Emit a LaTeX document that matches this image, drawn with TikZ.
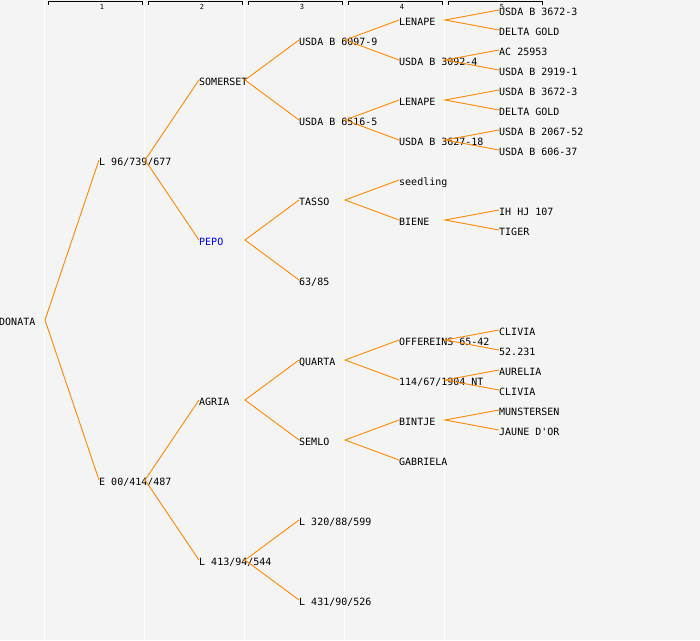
\documentclass[tikz,border=0pt]{standalone}
\usepackage{fontspec}
\usepackage{tikz}

\newfontfamily\pedfont{DejaVu Sans Mono}
\definecolor{bgcol}{HTML}{F4F4F4}
\definecolor{linkcol}{HTML}{FF8800}
\definecolor{pepocol}{HTML}{0000FF}

\tikzset{
  pnode/.style={anchor=west, inner sep=0pt, text height=11.4pt, text depth=0pt,
    font=\fontsize{10}{12}\pedfont},
  hnum/.style={inner sep=0pt, font=\fontsize{7}{7}\pedfont},
  link/.style={draw=linkcol, line width=0.9pt},
  colsep/.style={draw=white, line width=1pt},
  bracket/.style={draw=black, line width=0.8pt}
}

\begin{document}
\begin{tikzpicture}[x=1pt, y=-1pt]
   \useasboundingbox (0,0) rectangle (700,640);
   \fill[bgcol] (0,0) rectangle (700,640);

   % column separators
   \draw[colsep] (44.5,0) -- (44.5,640);
   \draw[colsep] (144.5,0) -- (144.5,640);
   \draw[colsep] (244.5,0) -- (244.5,640);
   \draw[colsep] (344.5,0) -- (344.5,640);
   \draw[colsep] (444.5,0) -- (444.5,640);

   % generation headers
   \draw[bracket] (48,4.5) -- (48,1.5) -- (142,1.5) -- (142,4.5);
   \node(h1)[hnum] at (102,6.5) {1};
   \draw[bracket] (148,4.5) -- (148,1.5) -- (242,1.5) -- (242,4.5);
   \node(h2)[hnum] at (202,6.5) {2};
   \draw[bracket] (248,4.5) -- (248,1.5) -- (342,1.5) -- (342,4.5);
   \node(h3)[hnum] at (302,6.5) {3};
   \draw[bracket] (348,4.5) -- (348,1.5) -- (442,1.5) -- (442,4.5);
   \node(h4)[hnum] at (402,6.5) {4};
   \draw[bracket] (448,4.5) -- (448,1.5) -- (542,1.5) -- (542,4.5);
   \node(h5)[hnum] at (502,6.5) {5};

   % fork columns
   \coordinate(f0) at (45,0);
   \coordinate(f1) at (145,0);
   \coordinate(f2) at (245,0);
   \coordinate(f3) at (345,0);
   \coordinate(f4) at (445,0);

   % generation 0 and 1
   \node(donata)[pnode] at (-1,320) {DONATA};
   \node(l96)[pnode] at (99,160) {L 96/739/677};
   \node(e00)[pnode] at (99,480) {E 00/414/487};

   % generation 2
   \node(somerset)[pnode] at (199,80) {SOMERSET};
   \node(pepo)[pnode, text=pepocol] at (199,240) {PEPO};
   \node(agria)[pnode] at (199,400) {AGRIA};
   \node(l413)[pnode] at (199,560) {L 413/94/544};

   % generation 3
   \node(usda6097)[pnode] at (299,40) {USDA B 6097-9};
   \node(usda6516)[pnode] at (299,120) {USDA B 6516-5};
   \node(tasso)[pnode] at (299,200) {TASSO};
   \node(n6385)[pnode] at (299,280) {63/85};
   \node(quarta)[pnode] at (299,360) {QUARTA};
   \node(semlo)[pnode] at (299,440) {SEMLO};
   \node(l320)[pnode] at (299,520) {L 320/88/599};
   \node(l431)[pnode] at (299,600) {L 431/90/526};

   % generation 4
   \node(lenapeA)[pnode] at (399,20) {LENAPE};
   \node(usda3092)[pnode] at (399,60) {USDA B 3092-4};
   \node(lenapeB)[pnode] at (399,100) {LENAPE};
   \node(usda3627)[pnode] at (399,140) {USDA B 3627-18};
   \node(seedling)[pnode] at (399,180) {seedling};
   \node(biene)[pnode] at (399,220) {BIENE};
   \node(offereins)[pnode] at (399,340) {OFFEREINS 65-42};
   \node(n114)[pnode] at (399,380) {114/67/1904 NT};
   \node(bintje)[pnode] at (399,420) {BINTJE};
   \node(gabriela)[pnode] at (399,460) {GABRIELA};

   % generation 5
   \node(usda3672a)[pnode] at (499,10) {USDA B 3672-3};
   \node(deltaA)[pnode] at (499,30) {DELTA GOLD};
   \node(ac25953)[pnode] at (499,50) {AC 25953};
   \node(usda2919)[pnode] at (499,70) {USDA B 2919-1};
   \node(usda3672b)[pnode] at (499,90) {USDA B 3672-3};
   \node(deltaB)[pnode] at (499,110) {DELTA GOLD};
   \node(usda2067)[pnode] at (499,130) {USDA B 2067-52};
   \node(usda606)[pnode] at (499,150) {USDA B 606-37};
   \node(ihhj)[pnode] at (499,210) {IH HJ 107};
   \node(tiger)[pnode] at (499,230) {TIGER};
   \node(cliviaA)[pnode] at (499,330) {CLIVIA};
   \node(n52231)[pnode] at (499,350) {52.231};
   \node(aurelia)[pnode] at (499,370) {AURELIA};
   \node(cliviaB)[pnode] at (499,390) {CLIVIA};
   \node(munstersen)[pnode] at (499,410) {MUNSTERSEN};
   \node(jaune)[pnode] at (499,430) {JAUNE D'OR};

   % links
   \draw[link] (l96.west) -- (donata -| f0) -- (e00.west);

   \draw[link] (somerset.west) -- (l96 -| f1) -- (pepo.west);
   \draw[link] (agria.west) -- (e00 -| f1) -- (l413.west);

   \draw[link] (usda6097.west) -- (somerset -| f2) -- (usda6516.west);
   \draw[link] (tasso.west) -- (pepo -| f2) -- (n6385.west);
   \draw[link] (quarta.west) -- (agria -| f2) -- (semlo.west);
   \draw[link] (l320.west) -- (l413 -| f2) -- (l431.west);

   \draw[link] (lenapeA.west) -- (usda6097 -| f3) -- (usda3092.west);
   \draw[link] (lenapeB.west) -- (usda6516 -| f3) -- (usda3627.west);
   \draw[link] (seedling.west) -- (tasso -| f3) -- (biene.west);
   \draw[link] (offereins.west) -- (quarta -| f3) -- (n114.west);
   \draw[link] (bintje.west) -- (semlo -| f3) -- (gabriela.west);

   \draw[link] (usda3672a.west) -- (lenapeA -| f4) -- (deltaA.west);
   \draw[link] (ac25953.west) -- (usda3092 -| f4) -- (usda2919.west);
   \draw[link] (usda3672b.west) -- (lenapeB -| f4) -- (deltaB.west);
   \draw[link] (usda2067.west) -- (usda3627 -| f4) -- (usda606.west);
   \draw[link] (ihhj.west) -- (biene -| f4) -- (tiger.west);
   \draw[link] (cliviaA.west) -- (offereins -| f4) -- (n52231.west);
   \draw[link] (aurelia.west) -- (n114 -| f4) -- (cliviaB.west);
   \draw[link] (munstersen.west) -- (bintje -| f4) -- (jaune.west);

\end{tikzpicture}
\end{document}
